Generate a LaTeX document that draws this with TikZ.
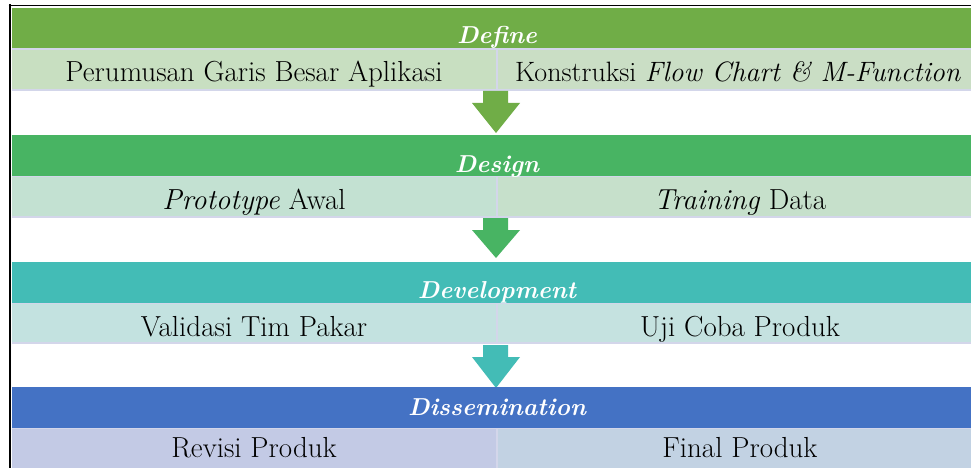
\documentclass[tikz,border=0pt]{standalone}
\usepackage{fontspec}
\usetikzlibrary{calc}
\definecolor{hA}{HTML}{70AD47}
\definecolor{hB}{HTML}{48B463}
\definecolor{hC}{HTML}{43BCB6}
\definecolor{hD}{HTML}{4472C4}
\definecolor{sAl}{HTML}{C8DFC1}
\definecolor{sAr}{HTML}{CADEC5}
\definecolor{sBl}{HTML}{C3E1D2}
\definecolor{sBr}{HTML}{C6E0CB}
\definecolor{sCl}{HTML}{C3E2E0}
\definecolor{sCr}{HTML}{C5E2E0}
\definecolor{sDl}{HTML}{C3CAE5}
\definecolor{sDr}{HTML}{C2D2E3}
\definecolor{sep}{HTML}{D3D6EA}
\begin{document}
\begin{tikzpicture}[x=1pt,y=-1pt,
  txt/.style={font=\rmfamily\fontsize{29}{32}\selectfont, anchor=base, inner sep=0pt, text=black},
  head/.style={font=\rmfamily\fontsize{24.5}{28}\selectfont\bfseries\itshape, anchor=base, inner sep=0pt, text=white},
  seplinie/.style={draw=sep, line width=1.5pt}]
\useasboundingbox (0,0) rectangle (971,468);
\clip (0,0) rectangle (971,468);
\fill[white] (0,0) rectangle (971,468);

% ---------- Define ----------
\fill[hA] (12,8) rectangle (971,48.5);
\fill[sAl] (12,49) rectangle (497,90);
\fill[sAr] (497,49) rectangle (971,90);
\draw[seplinie] (12,49) -- (971,49);
\draw[seplinie] (12,90) -- (971,90);
\draw[seplinie] (497,49) -- (497,90);
\node[head] (define) at (497,44) {Define};
\node[txt] (d1) at (254,82) {Perumusan Garis Besar Aplikasi};
\node[txt, font=\rmfamily\fontsize{28}{31}\selectfont] (d2) at (738,82) {Konstruksi \textit{Flow Chart \& M-Function}};

% arrow 1
\fill[hA] (483,91) -- (508,91) -- (508,103) -- (520,103) -- (496,133) -- (472,103) -- (483,103) -- cycle;

% ---------- Design ----------
\fill[hB] (12,135) rectangle (971,176);
\fill[sBl] (12,176.5) rectangle (497,217);
\fill[sBr] (497,176.5) rectangle (971,217);
\draw[seplinie] (12,176.5) -- (971,176.5);
\draw[seplinie] (12,217) -- (971,217);
\draw[seplinie] (497,176.5) -- (497,217);
\node[head] (design) at (497,172) {Design};
\node[txt] (e1) at (254,209) {\textit{Prototype} Awal};
\node[txt] (e2) at (740,209) {\textit{Training} Data};

% arrow 2
\fill[hB] (483,218) -- (508,218) -- (508,230) -- (520,230) -- (496,258) -- (472,230) -- (483,230) -- cycle;

% ---------- Development ----------
\fill[hC] (12,262) rectangle (971,303);
\fill[sCl] (12,303.5) rectangle (497,343);
\fill[sCr] (497,303.5) rectangle (971,343);
\draw[seplinie] (12,303.5) -- (971,303.5);
\draw[seplinie] (12,343) -- (971,343);
\draw[seplinie] (497,303.5) -- (497,343);
\node[head] (devel) at (497,298) {Development};
\node[txt] (f1) at (254,336) {Validasi Tim Pakar};
\node[txt] (f2) at (740,336) {Uji Coba Produk};

% arrow 3
\fill[hC] (483,345) -- (508,345) -- (508,357) -- (520,357) -- (496,388) -- (472,357) -- (483,357) -- cycle;

% ---------- Dissemination ----------
\fill[hD] (12,387) rectangle (971,428);
\fill[sDl] (12,428.5) rectangle (497,470);
\fill[sDr] (497,428.5) rectangle (971,470);
\draw[seplinie] (12,428.5) -- (971,428.5);
\draw[seplinie] (497,428.5) -- (497,470);
\node[head] (dissem) at (497,415) {Dissemination};
\node[txt] (g1) at (254,457) {Revisi Produk};
\node[txt] (g2) at (740,457) {Final Produk};

% frame
\draw[black, line width=2pt] (9.5,4.5) -- (9.5,470);
\draw[black, line width=1.5pt] (8.5,5.5) -- (971,5.5);
\end{tikzpicture}
\end{document}
